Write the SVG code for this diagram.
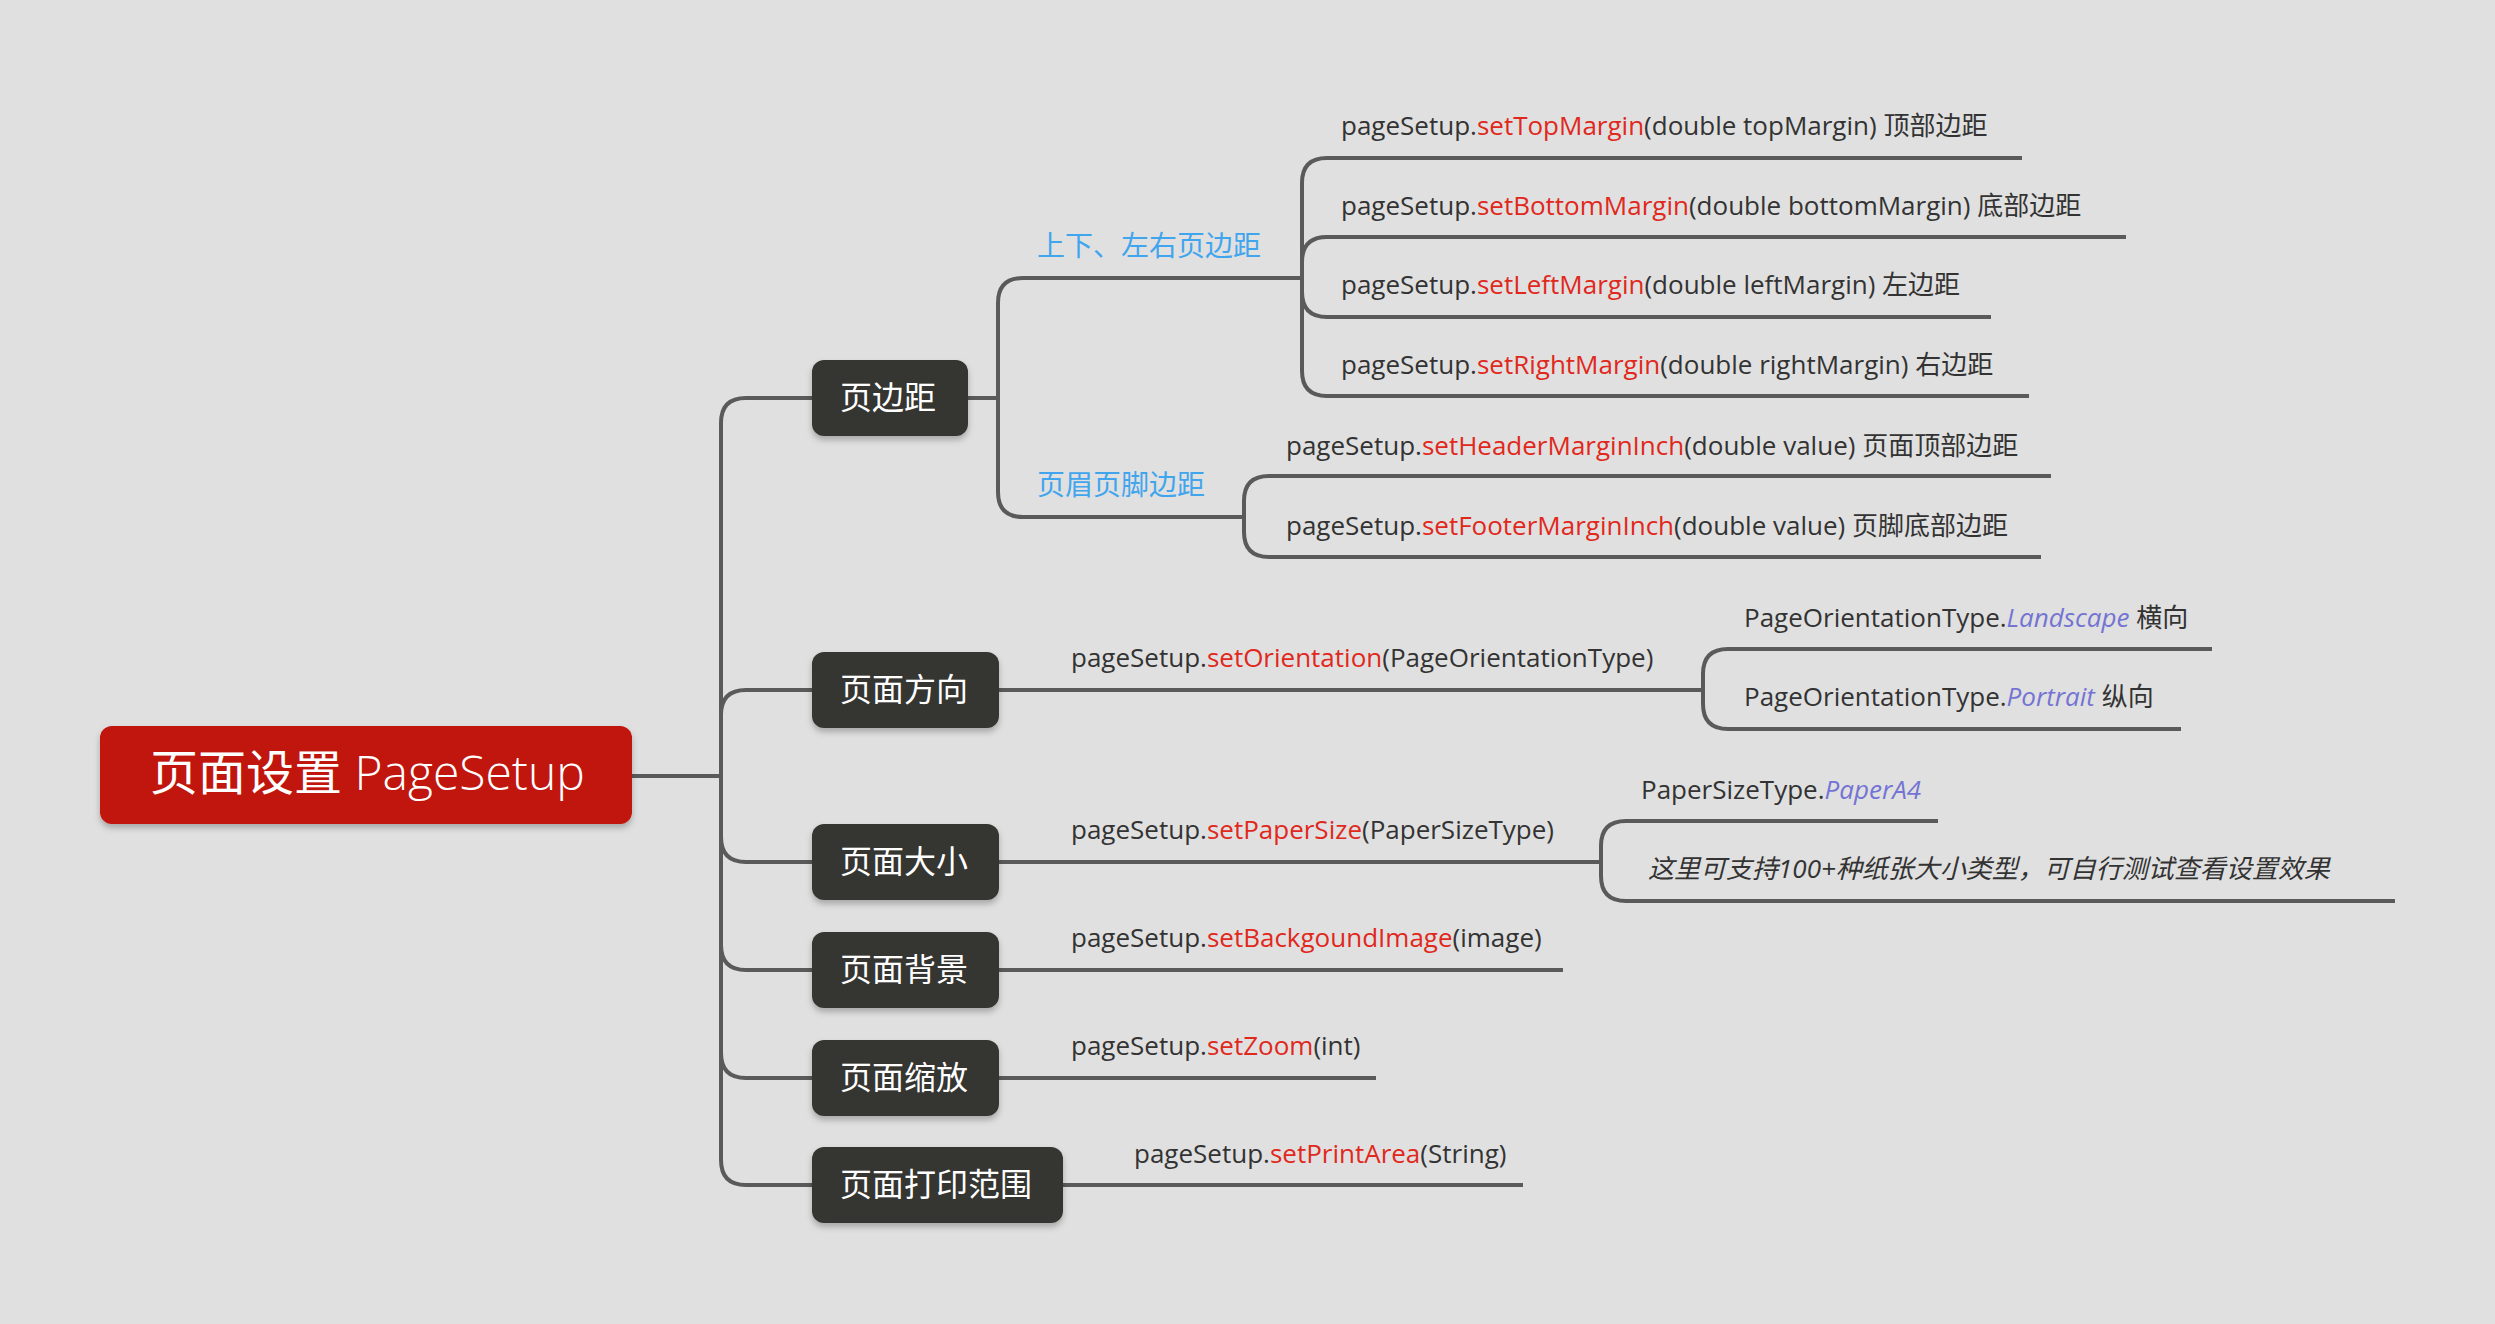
<svg xmlns="http://www.w3.org/2000/svg" width="2495" height="1324" viewBox="0 0 2495 1324">
<style>
.c{fill:none;stroke:#5a5a5a;stroke-width:4}
.t{font-family:"Open Sans","Noto Sans CJK SC",sans-serif;font-size:26px;fill:#333}
.r{fill:#e0281c}
.i{fill:#7474d4;font-style:italic}
.g{font-family:"Open Sans","Noto Sans CJK SC",sans-serif;font-size:28px;fill:#41a5ee}
.b{fill:#363631}
.bt{font-family:"Noto Sans CJK SC",sans-serif;font-size:32px;fill:#fff}
</style>
<defs><filter id="s" x="-10%" y="-10%" width="120%" height="140%"><feDropShadow dx="0" dy="4" stdDeviation="3" flood-color="#000" flood-opacity="0.25"/></filter></defs>
<rect width="2495" height="1324" fill="#e0e0e0"/>
<g id="connectors">
<path class="c" d="M632 776 H721"/>
<path class="c" d="M721 776 V423 Q721 398 746 398 H812"/>
<path class="c" d="M721 690 Q721 690 721 690 M721 715 Q721 690 746 690 H812"/>
<path class="c" d="M721 776 V837 Q721 862 746 862 H812"/>
<path class="c" d="M721 776 V945 Q721 970 746 970 H812"/>
<path class="c" d="M721 776 V1053 Q721 1078 746 1078 H812"/>
<path class="c" d="M721 776 V1160 Q721 1185 746 1185 H812"/>
<path class="c" d="M968 398 H998"/>
<path class="c" d="M998 398 V303 Q998 278 1023 278 H1302"/>
<path class="c" d="M998 398 V492 Q998 517 1023 517 H1244"/>
<path class="c" d="M1302 278 V183 Q1302 158 1327 158 H2022"/>
<path class="c" d="M1302 278 V262 Q1302 237 1327 237 H2126"/>
<path class="c" d="M1302 278 V292 Q1302 317 1327 317 H1991"/>
<path class="c" d="M1302 278 V371 Q1302 396 1327 396 H2029"/>
<path class="c" d="M1244 517 V501 Q1244 476 1269 476 H2051"/>
<path class="c" d="M1244 517 V532 Q1244 557 1269 557 H2041"/>
<path class="c" d="M999 690 H1703"/>
<path class="c" d="M1703 690 V674 Q1703 649 1728 649 H2212"/>
<path class="c" d="M1703 690 V704 Q1703 729 1728 729 H2181"/>
<path class="c" d="M999 862 H1601"/>
<path class="c" d="M1601 862 V846 Q1601 821 1626 821 H1938"/>
<path class="c" d="M1601 862 V876 Q1601 901 1626 901 H2395"/>
<path class="c" d="M999 970 H1563"/>
<path class="c" d="M999 1078 H1376"/>
<path class="c" d="M1063 1185 H1523"/>
</g>
<g id="root"><rect x="100" y="726" width="532" height="98" rx="12" fill="#c0120c" filter="url(#s)"/><text x="150" y="790" font-family="'Open Sans','Noto Sans CJK SC',sans-serif" font-size="48" fill="#fff">页面设置 <tspan font-weight="300">PageSetup</tspan></text></g>
<g id="n1"><rect class="b" x="812" y="360" width="156" height="76" rx="12" filter="url(#s)"/><text class="bt" x="840" y="409">页边距</text></g>
<g id="n2"><rect class="b" x="812" y="652" width="187" height="76" rx="12" filter="url(#s)"/><text class="bt" x="840" y="701">页面方向</text></g>
<g id="n3"><rect class="b" x="812" y="824" width="187" height="76" rx="12" filter="url(#s)"/><text class="bt" x="840" y="873">页面大小</text></g>
<g id="n4"><rect class="b" x="812" y="932" width="187" height="76" rx="12" filter="url(#s)"/><text class="bt" x="840" y="981">页面背景</text></g>
<g id="n5"><rect class="b" x="812" y="1040" width="187" height="76" rx="12" filter="url(#s)"/><text class="bt" x="840" y="1089">页面缩放</text></g>
<g id="n6"><rect class="b" x="812" y="1147" width="251" height="76" rx="12" filter="url(#s)"/><text class="bt" x="840" y="1196">页面打印范围</text></g>
<g id="g1"><text class="g" x="1037" y="256">上下、左右页边距</text></g>
<g id="g2"><text class="g" x="1037" y="495">页眉页脚边距</text></g>
<g id="l1"><text class="t" x="1341" y="135">pageSetup.<tspan class="r">setTopMargin</tspan>(double topMargin) 顶部边距</text></g>
<g id="l2"><text class="t" x="1341" y="215">pageSetup.<tspan class="r">setBottomMargin</tspan>(double bottomMargin)  底部边距</text></g>
<g id="l3"><text class="t" x="1341" y="294">pageSetup.<tspan class="r">setLeftMargin</tspan>(double leftMargin) 左边距</text></g>
<g id="l4"><text class="t" x="1341" y="374">pageSetup.<tspan class="r">setRightMargin</tspan>(double rightMargin) 右边距</text></g>
<g id="l5"><text class="t" x="1286" y="455">pageSetup.<tspan class="r">setHeaderMarginInch</tspan>(double value) 页面顶部边距</text></g>
<g id="l6"><text class="t" x="1286" y="535">pageSetup.<tspan class="r">setFooterMarginInch</tspan>(double value) 页脚底部边距</text></g>
<g id="l7"><text class="t" x="1071" y="667">pageSetup.<tspan class="r">setOrientation</tspan>(PageOrientationType)</text></g>
<g id="l8"><text class="t" x="1744" y="627">PageOrientationType.<tspan class="i">Landscape</tspan>  横向</text></g>
<g id="l9"><text class="t" x="1744" y="706">PageOrientationType.<tspan class="i">Portrait</tspan>  纵向</text></g>
<g id="l10"><text class="t" x="1071" y="839">pageSetup.<tspan class="r">setPaperSize</tspan>(PaperSizeType)</text></g>
<g id="l11"><text class="t" x="1641" y="799">PaperSizeType.<tspan class="i">PaperA4</tspan></text></g>
<g id="l12"><text class="t" x="1648" y="878" font-style="italic" fill="#444">这里可支持100+种纸张大小类型，可自行测试查看设置效果</text></g>
<g id="l13"><text class="t" x="1071" y="947">pageSetup.<tspan class="r">setBackgoundImage</tspan>(image)</text></g>
<g id="l14"><text class="t" x="1071" y="1055">pageSetup.<tspan class="r">setZoom</tspan>(int)</text></g>
<g id="l15"><text class="t" x="1134" y="1163">pageSetup.<tspan class="r">setPrintArea</tspan>(String)</text></g>
</svg>
